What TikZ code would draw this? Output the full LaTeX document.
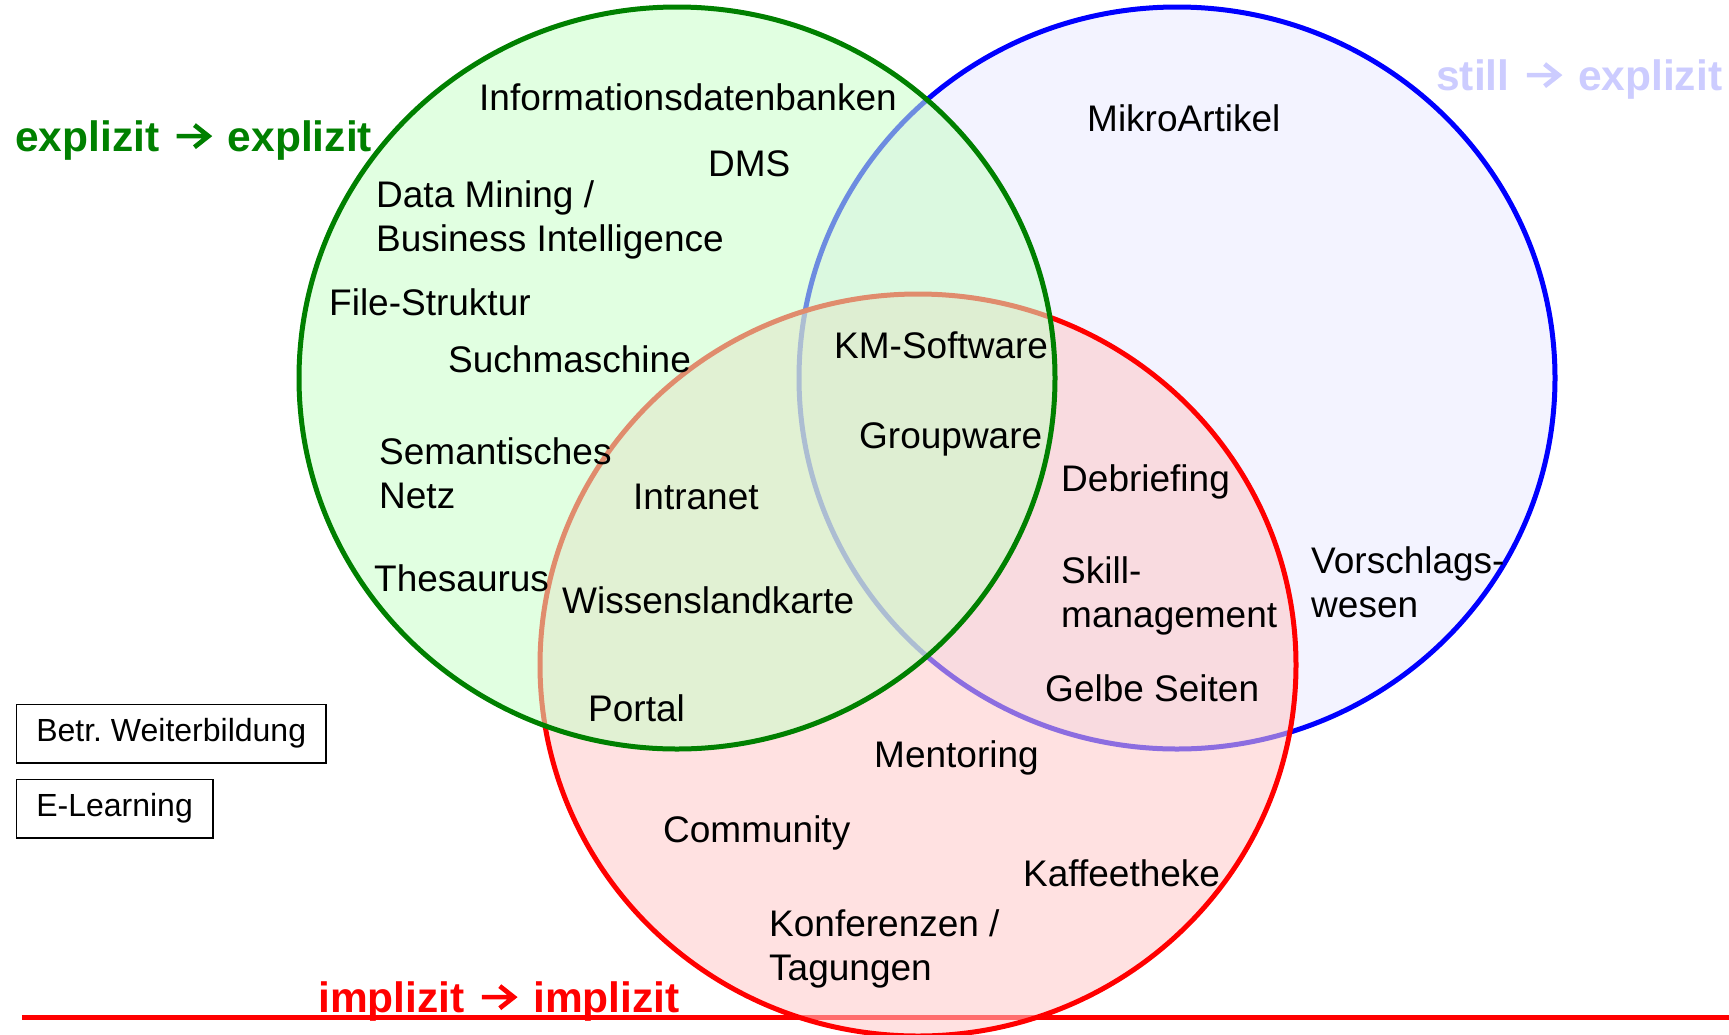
\documentclass[tikz,border=0pt]{standalone}
\usepackage{fontspec}
\setmainfont{Liberation Sans}
\definecolor{gline}{RGB}{0,128,0}
\definecolor{gfill}{RGB}{200,255,200}
\definecolor{rfill}{RGB}{255,200,200}
\definecolor{bfill}{RGB}{243,243,255}
\definecolor{bline}{RGB}{0,0,255}
\definecolor{rline}{RGB}{255,0,0}
\definecolor{stillc}{RGB}{204,204,255}
\newcommand{\bigarr}[1]{\tikz[baseline=0pt]{\useasboundingbox (0,0) rectangle (1.06em,0.5em);
  \draw[#1, line width=0.11em, line cap=butt, line join=miter]
    (0.13em,0.35em) -- (0.87em,0.35em)
    (0.55em,0.61em) -- (0.88em,0.35em) -- (0.55em,0.09em);}}
\tikzset{
  lbl/.style={anchor=base west, inner sep=0pt, font=\fontsize{37}{44}\selectfont},
  head/.style={anchor=base west, inner sep=0pt, font=\fontsize{42.5}{50}\selectfont\bfseries},
  boxed/.style={draw, line width=1.6pt, anchor=north west, inner xsep=20pt, inner ysep=0pt,
                minimum height=58.5pt, font=\fontsize{32}{38}\selectfont},
  circ/.style={line width=5pt}
}
\begin{document}
\frenchspacing
\begin{tikzpicture}[x=1pt,y=-1pt]
\useasboundingbox (0,0) rectangle (1729,1034);
% baseline
\coordinate (lineL) at (22,1017);
\coordinate (lineR) at (1729,1017);
\draw[rline, line width=5pt] (lineL) -- (lineR);
% circles: blue, red, green
\draw[circ, bline, fill=bfill] (1177,378) ellipse [x radius=378pt, y radius=371pt];
\draw[circ, rline, fill=rfill, fill opacity=0.55] (918,665) ellipse [x radius=378pt, y radius=371pt];
\draw[circ, gline, fill=gfill, fill opacity=0.55] (677,378) ellipse [x radius=378pt, y radius=371pt];
% headings
\node[head, text=gline] (hexp) at (15,151) {explizit \bigarr{gline} explizit};
\node[head, text=stillc] (hstill) at (1436,90) {still \bigarr{stillc} explizit};
\node[head, text=rline] (himp) at (318,1012) {implizit \bigarr{rline} implizit};
% labels
\node[lbl] (t1) at (479,110) {Informationsdatenbanken};
\node[lbl] (t2) at (708,176) {DMS};
\node[lbl] (t3a) at (376,207) {Data Mining /};
\node[lbl] (t3b) at (376,251) {Business Intelligence};
\node[lbl] (t4) at (329,315) {File-Struktur};
\node[lbl] (t5) at (448,372) {Suchmaschine};
\node[lbl] (t6) at (834,358) {KM-Software};
\node[lbl] (t7) at (859,448) {Groupware};
\node[lbl] (t8a) at (379,464) {Semantisches};
\node[lbl] (t8b) at (379,508) {Netz};
\node[lbl] (t9) at (633,509) {Intranet};
\node[lbl] (t10) at (1061,491) {Debriefing};
\node[lbl] (t11) at (374,591) {Thesaurus};
\node[lbl] (t12) at (562,613) {Wissenslandkarte};
\node[lbl] (t13a) at (1311,573) {Vorschlags-};
\node[lbl] (t13b) at (1311,617) {wesen};
\node[lbl] (t14a) at (1061,583) {Skill-};
\node[lbl] (t14b) at (1061,627) {management};
\node[lbl] (t15) at (1045,701) {Gelbe Seiten};
\node[lbl] (t16) at (588,721) {Portal};
\node[lbl] (t17) at (874,767) {Mentoring};
\node[lbl] (t18) at (663,842) {Community};
\node[lbl] (t19) at (1023,886) {Kaffeetheke};
\node[lbl] (t20a) at (769,936) {Konferenzen /};
\node[lbl] (t20b) at (769,980) {Tagungen};
\node[lbl] (t21) at (1087,131) {MikroArtikel};
% boxes
\node[boxed] (b1) at (15.5,703.5) {Betr. Weiterbildung};
\node[boxed] (b2) at (15.5,778.5) {E-Learning};
\end{tikzpicture}
\end{document}
